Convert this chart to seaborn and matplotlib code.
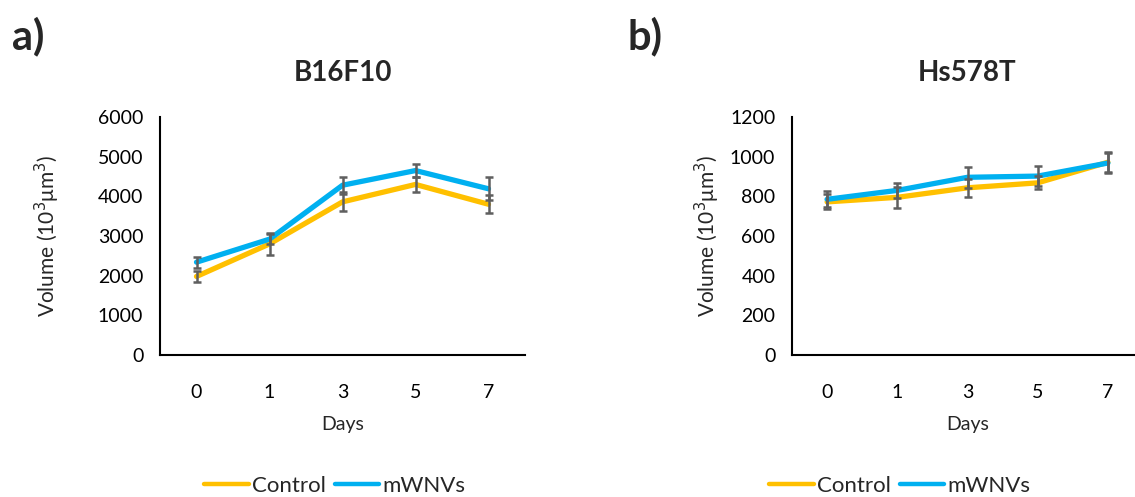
import numpy as np
import pandas as pd
import seaborn as sns
import matplotlib.pyplot as plt
from matplotlib.lines import Line2D

days = ["0", "1", "3", "5", "7"]
series_names = ["Control", "mWNVs"]

# B16F10 tumour spheroid volume (10^3 µm^3)
b16_control = [1980, 2800, 3860, 4300, 3800]
b16_control_err = [130, 280, 240, 200, 230]
b16_mwnv = [2340, 2920, 4280, 4650, 4190]
b16_mwnv_err = [140, 120, 220, 170, 290]

# Hs578T tumour spheroid volume (10^3 µm^3)
hs_control = [772, 795, 843, 868, 972]
hs_control_err = [38, 52, 45, 33, 50]
hs_mwnv = [785, 830, 896, 902, 968]
hs_mwnv_err = [40, 38, 52, 52, 50]

colors = {"Control": "#FFC000", "mWNVs": "#00B0F0"}
err_color = "#5f5f5f"

sns.set_theme(style="white")
plt.rcParams["font.family"] = ["Lato", "DejaVu Sans"]

fig = plt.figure(figsize=(11.35, 4.97), dpi=100)
W, H = 1135, 497


def place(x0, y0, x1, y1):
    return fig.add_axes([x0 / W, 1 - y1 / H, (x1 - x0) / W, (y1 - y0) / H])


ax1 = place(160, 117, 525, 355)
ax2 = place(792, 117, 1143, 355)


def draw(ax, ctrl, ctrl_err, mw, mw_err, ymax, ystep, title, ylabpad, leg_x):
    pos = np.arange(len(days))
    df = pd.DataFrame({
        "pos": np.concatenate([pos, pos]),
        "value": ctrl + mw,
        "group": ["Control"] * len(days) + ["mWNVs"] * len(days),
    })
    sns.lineplot(data=df, x="pos", y="value", hue="group", palette=colors,
                 linewidth=3.8, ax=ax, legend=False, zorder=2)
    for vals, errs in ((ctrl, ctrl_err), (mw, mw_err)):
        ax.errorbar(pos, vals, yerr=errs, fmt="none", ecolor=err_color,
                    elinewidth=1.8, capsize=3, capthick=1.8, zorder=3)
    ax.set_xlim(-0.5, len(days) - 0.5)
    ax.set_ylim(0, ymax)
    ax.set_xticks(pos)
    ax.set_xticklabels(days)
    ax.set_yticks(np.arange(0, ymax + 1, ystep))
    ax.tick_params(axis="both", labelsize=14, colors="black", length=0)
    ax.tick_params(axis="x", pad=21)
    ax.tick_params(axis="y", pad=12)
    for side in ("top", "right"):
        ax.spines[side].set_visible(False)
    for side in ("left", "bottom"):
        ax.spines[side].set_color("black")
        ax.spines[side].set_linewidth(1.5)
    ax.set_xlabel("Days", fontsize=14, labelpad=11)
    ax.set_ylabel("Volume (10$^3$μm$^3$)", fontsize=15, labelpad=ylabpad)
    ax.set_title(title, fontsize=20, fontweight="bold", pad=26)
    handles = [Line2D([], [], color=colors[n], linewidth=3.2) for n in series_names]
    fig.legend(handles, series_names, loc="center",
               bbox_to_anchor=(leg_x / W, 1 - 486 / H), ncol=2, frameon=False,
               fontsize=16, handlelength=2.0, handletextpad=0.15,
               columnspacing=0.4)


draw(ax1, b16_control, b16_control_err, b16_mwnv, b16_mwnv_err, 6000, 1000,
     "B16F10", 26, 335)
draw(ax2, hs_control, hs_control_err, hs_mwnv, hs_mwnv_err, 1200, 200,
     "Hs578T", 6, 900)

fig.text(12 / W, 1 - 36 / H, "a)", fontsize=30, fontweight="bold", va="center")
fig.text(628 / W, 1 - 36 / H, "b)", fontsize=30, fontweight="bold", va="center")

fig.savefig("out.png", dpi=100, facecolor="white")
